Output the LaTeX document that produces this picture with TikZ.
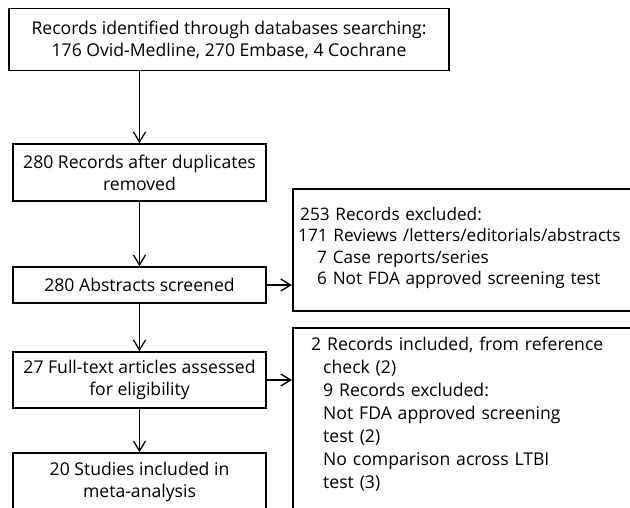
\documentclass[tikz,border=0pt]{standalone}
\usepackage{fontspec}
\setmainfont{Open Sans}
\usetikzlibrary{arrows.meta,positioning}
\tikzset{>={Straight Barb[length=10pt,width=12pt]}}
\tikzset{
  stepbox/.style={draw, line width=1.6pt, minimum width=253pt, align=center, inner sep=0pt},
  exclbox/.style={draw, line width=1.6pt, anchor=north west, minimum width=400pt, inner sep=0pt},
  notes/.style={anchor=north west, text width=330pt, align=left, inner sep=0pt},
  flow/.style={->, line width=1.3pt}
}

\begin{document}
\begin{tikzpicture}[x=1pt,y=-1pt,font=\fontsize{17.6}{22}\selectfont]
  \clip (0,0) rectangle (630,507);
  % left column
  \node[stepbox, minimum width=440pt, minimum height=62pt] (search) at (229,39.5)
    {Records identified through databases searching:\\176 Ovid-Medline, 270 Embase, 4 Cochrane};
  \node[stepbox, minimum height=57pt] (dedup) at (139.5,172.5) {280 Records after duplicates\\removed};
  \node[stepbox, minimum height=36pt] (abs) at (139.5,285) {280 Abstracts screened};
  \node[stepbox, minimum height=56pt] (full) at (139.5,380) {27 Full-text articles assessed\\for eligibility};
  \node[stepbox, minimum height=57pt] (incl) at (139.5,481.5) {20 Studies included in\\meta-analysis};
  % right column
  \node[exclbox, minimum height=122pt] (excl) at (292,188) {};
  \node[notes, font=\fontsize{17.2}{21.5}\selectfont] (excltext) at (298,207)
    {\hspace*{2pt}253 Records excluded:\\171 Reviews /letters/editorials/abstracts\\%
     \hspace*{19pt}7 Case reports/series\\\hspace*{19pt}6 Not FDA approved screening test};
  \node[exclbox, minimum height=200pt] (elig) at (292,327) {};
  \node[notes, font=\fontsize{17.6}{23}\selectfont] (eligtext) at (311,337)
    {2 Records included, from reference\\\hspace*{12pt}check (2)\\\hspace*{12pt}9 Records excluded:\\%
     \hspace*{12pt}Not FDA approved screening\\\hspace*{12pt}test (2)\\%
     \hspace*{12pt}No comparison across LTBI\\\hspace*{12pt}test (3)};
  % arrows
  \draw[flow] (search.south -| dedup.north) -- (dedup.north);
  \draw[flow] (dedup) -- (abs);
  \draw[flow] (abs) -- (full);
  \draw[flow] (full) -- (incl);
  \draw[flow] (abs.east) -- (abs.east -| excl.west);
  \draw[flow] (full.east) -- (full.east -| elig.west);
\end{tikzpicture}
\end{document}
